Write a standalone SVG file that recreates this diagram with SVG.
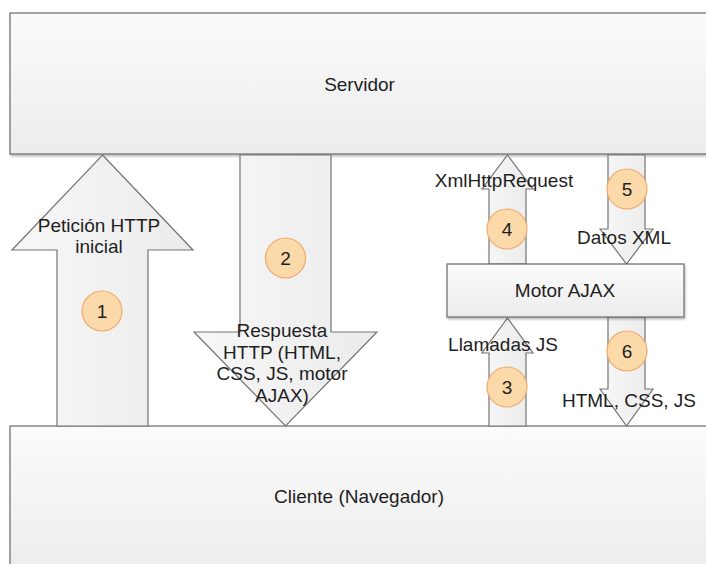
<svg xmlns="http://www.w3.org/2000/svg" width="706" height="564" viewBox="0 0 706 564">
<defs>
<linearGradient id="gBox" x1="0" y1="0" x2="0" y2="1">
<stop offset="0" stop-color="#fbfbfb"/>
<stop offset="1" stop-color="#ececec"/>
</linearGradient>
<linearGradient id="gArrow" x1="0" y1="0" x2="1" y2="0">
<stop offset="0" stop-color="#f7f7f7"/>
<stop offset="1" stop-color="#ebebeb"/>
</linearGradient>
<filter id="sh" x="-5%" y="-5%" width="110%" height="115%">
<feDropShadow dx="1" dy="2" stdDeviation="1" flood-color="#000" flood-opacity="0.25"/>
</filter>
</defs>
<style>
.box{fill:url(#gBox);stroke:#6a6a6a;stroke-width:1.2;filter:url(#sh)}
.arr{fill:url(#gArrow);stroke:#747474;stroke-width:1.2;stroke-linejoin:miter}
.t{font-family:"Liberation Sans",Arial,sans-serif;font-size:19px;fill:#1e1e1e;text-anchor:middle}
.badge{fill:#fcd9a9;stroke:#efa86e;stroke-width:1.2}
</style>
<rect width="706" height="564" fill="#ffffff"/>
<g id="servidor">
<rect class="box" x="10" y="13" width="712" height="141"/>
<text class="t" x="359.5" y="91">Servidor</text>
</g>
<g id="cliente">
<rect class="box" x="10" y="426" width="712" height="150"/>
<text class="t" x="359" y="503">Cliente (Navegador)</text>
</g>
<g id="connectors">
<g id="arrow1">
<polygon class="arr" points="102.5,155 193,250 148,250 148,426 57,426 57,250 12,250"/>
<text class="t" x="99" y="232">Petición HTTP</text>
<text class="t" x="99" y="253">inicial</text>
<circle class="badge" cx="102" cy="311" r="20"/>
<text class="t" x="102" y="318">1</text>
</g>
<g id="arrow2">
<polygon class="arr" points="240,155 331,155 331,332 377,332 285.5,426 194,332 240,332"/>
<circle class="badge" cx="285.5" cy="258" r="20"/>
<text class="t" x="285.5" y="265">2</text>
<text class="t" x="282" y="337">Respuesta</text>
<text class="t" x="282" y="358.5">HTTP (HTML,</text>
<text class="t" x="282" y="380">CSS, JS, motor</text>
<text class="t" x="282" y="401.5">AJAX)</text>
</g>
<g id="arrow4">
<polygon class="arr" points="507.5,155 533,189 526,189 526,264 489,264 489,189 482,189"/>
<text class="t" x="504" y="187">XmlHttpRequest</text>
<circle class="badge" cx="507" cy="229" r="20"/>
<text class="t" x="507" y="236">4</text>
</g>
<g id="arrow5">
<polygon class="arr" points="608,155 645,155 645,229 653,229 626.5,264 600,229 608,229"/>
<circle class="badge" cx="627" cy="189" r="20"/>
<text class="t" x="627" y="196">5</text>
<text class="t" x="624" y="244">Datos XML</text>
</g>
<g id="arrow3">
<polygon class="arr" points="507.5,318 533,353 526,353 526,426 489,426 489,353 482,353"/>
<text class="t" x="503" y="351">Llamadas JS</text>
<circle class="badge" cx="507" cy="387" r="20"/>
<text class="t" x="507" y="394">3</text>
</g>
<g id="arrow6">
<polygon class="arr" points="608,317 645,317 645,389 653,389 626.5,426 600,389 608,389"/>
<circle class="badge" cx="627" cy="351" r="20"/>
<text class="t" x="627" y="358">6</text>
<text class="t" x="629" y="407">HTML, CSS, JS</text>
</g>
</g>
<g id="motor">
<rect class="box" x="447" y="264" width="237" height="53"/>
<text class="t" x="565" y="297">Motor AJAX</text>
</g>
</svg>
